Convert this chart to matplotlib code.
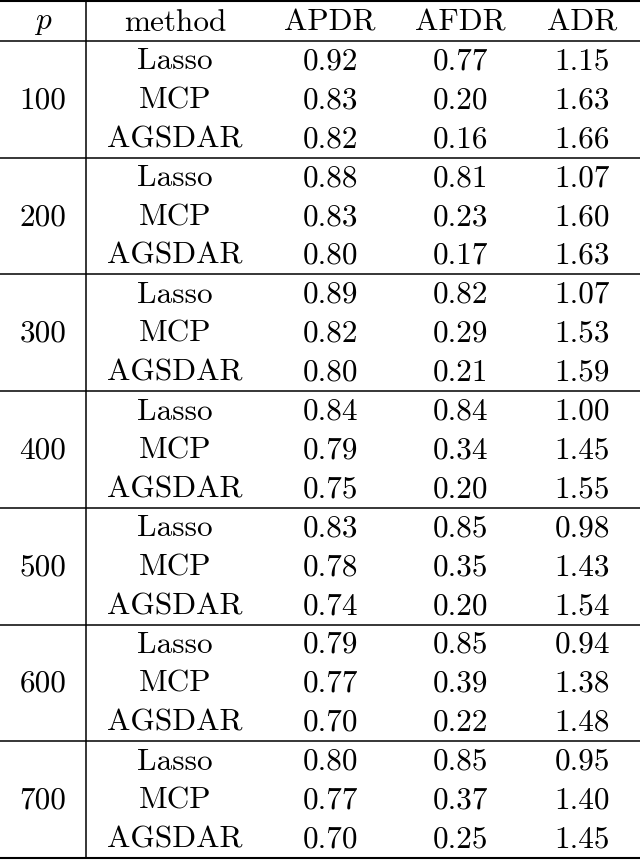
import matplotlib
matplotlib.use("Agg")
from matplotlib import pyplot as plt

plt.rcParams["mathtext.fontset"] = "cm"
plt.rcParams["font.family"] = ["cmr10", "DejaVu Serif"]

headers = ["$p$", "method", "APDR", "AFDR", "ADR"]
p_values = [100, 200, 300, 400, 500, 600, 700]
methods = ["Lasso", "MCP", "AGSDAR"]
apdr = [[0.92, 0.83, 0.82], [0.88, 0.83, 0.80], [0.89, 0.82, 0.80], [0.84, 0.79, 0.75],
        [0.83, 0.78, 0.74], [0.79, 0.77, 0.70], [0.80, 0.77, 0.70]]
afdr = [[0.77, 0.20, 0.16], [0.81, 0.23, 0.17], [0.82, 0.29, 0.21], [0.84, 0.34, 0.20],
        [0.85, 0.35, 0.20], [0.85, 0.39, 0.22], [0.85, 0.37, 0.25]]
adr = [[1.15, 1.63, 1.66], [1.07, 1.60, 1.63], [1.07, 1.53, 1.59], [1.00, 1.45, 1.55],
       [0.98, 1.43, 1.54], [0.94, 1.38, 1.48], [0.95, 1.40, 1.45]]

W, H = 640, 862
col_x = [43, 175, 330, 460, 582]
top, head_rule, bottom = 2, 42, 859
row_h = (bottom - head_rule) / 21
fs = 22.5

fig = plt.figure(figsize=(W / 100, H / 100), dpi=100)
ax = fig.add_axes([0, 0, 1, 1])
ax.set_xlim(0, W)
ax.set_ylim(H, 0)
ax.axis("off")

ax.axhline(top, color="black", lw=1.5)
ax.axhline(head_rule, color="black", lw=1.1)
ax.axhline(bottom, color="black", lw=1.5)
ax.plot([86, 86], [top, bottom], color="black", lw=1.1)

for x, h in zip(col_x, headers):
    ax.text(x, (top + head_rule) / 2 + 1, h, ha="center", va="center", fontsize=fs)

for g, p in enumerate(p_values):
    y0 = head_rule + g * 3 * row_h
    if g > 0:
        ax.axhline(y0, color="black", lw=1.1)
    ax.text(col_x[0], y0 + 1.5 * row_h, str(p), ha="center", va="center", fontsize=fs)
    for r, m in enumerate(methods):
        y = y0 + (r + 0.5) * row_h
        vals = [m, f"{apdr[g][r]:.2f}", f"{afdr[g][r]:.2f}", f"{adr[g][r]:.2f}"]
        for x, v in zip(col_x[1:], vals):
            ax.text(x, y, v, ha="center", va="center", fontsize=fs)

fig.savefig("out.png", dpi=100)
